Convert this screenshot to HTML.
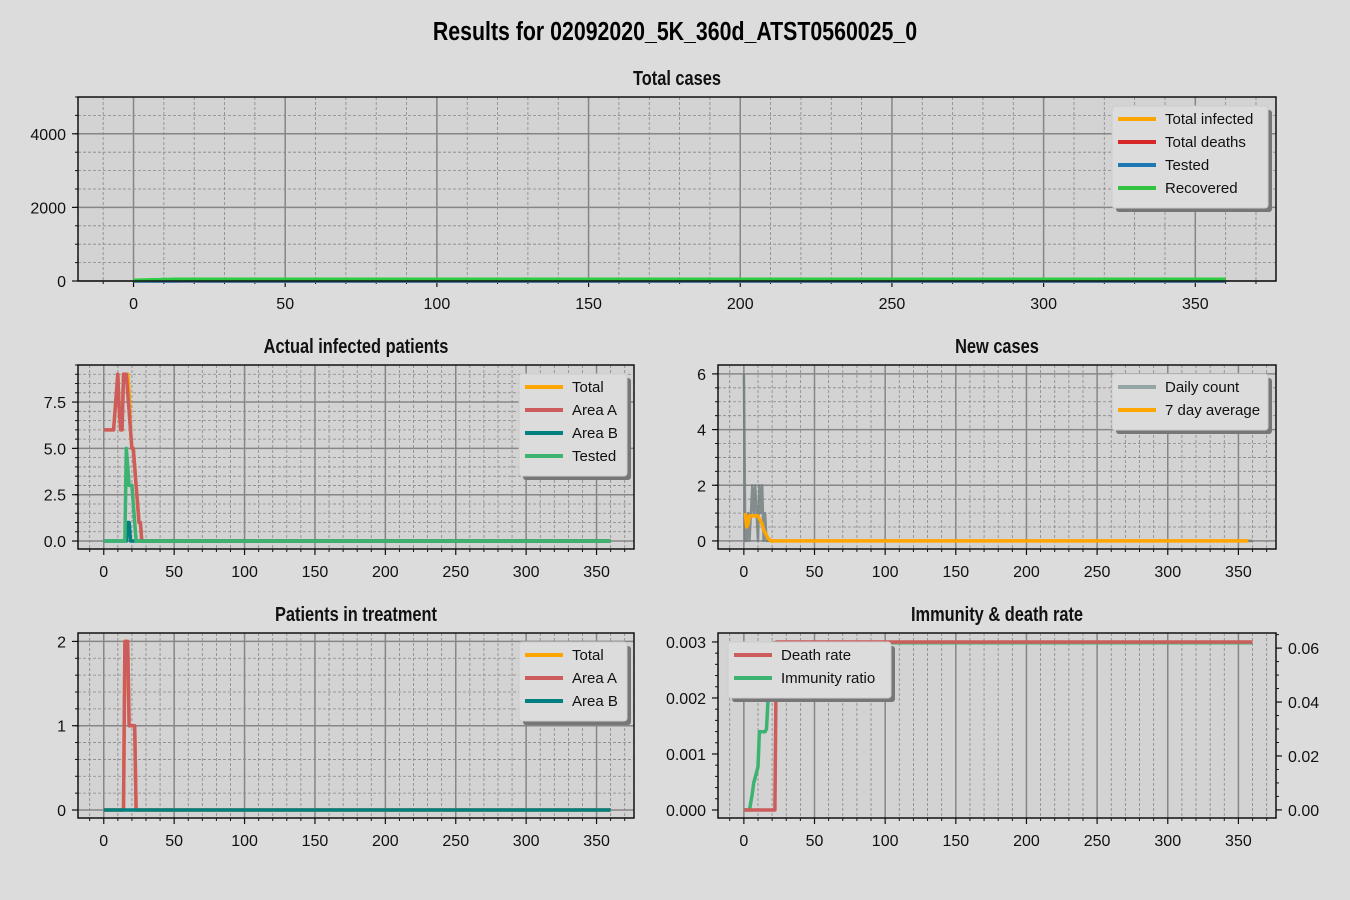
<!DOCTYPE html>
<html><head><meta charset="utf-8">
<style>
body{margin:0;background:#dcdcdc;}
svg{display:block;font-family:"Liberation Sans",sans-serif;}
.t{font-family:"Liberation Sans Narrow","Liberation Sans",sans-serif;font-weight:bold;}
</style></head>
<body>
<svg id="c" width="1350" height="900" xmlns="http://www.w3.org/2000/svg">
<text class="t" x="675" y="40" font-size="26" text-anchor="middle" transform="translate(675,0) scale(0.82,1) translate(-675,0)">Results for 02092020_5K_360d_ATST0560025_0</text>
</svg>
<script>
// ---- data ----
const days=[];for(let i=0;i<=360;i++)days.push(i);
function pad(a,n,v){const r=a.slice();while(r.length<n)r.push(v);return r;}
const topInfected=[6,6,6,6,6,6,6,6,7,8,9,7,6,6,9,9,9,8,7,6,5,5,4,3,2,1,1,0];
const topDeaths=[0];
const topTested=[0,0,0,0,0,0,0,0,0,0,0,0,0,0,0,0,5,4,3,3,3,2,1,0];
const topRecovered=[20,22,24,26,28,30,32,34,36,38,40,42,44,46,48,50];
const actTotal=[6,6,6,6,6,6,6,6,7,8,9,7,6,6,9,9,9,9,8,6,5,5,4,3,2,1,1,0];
const actA=[6,6,6,6,6,6,6,6,7,8,9,7,6,6,9,9,9,8,7,6,5,5,4,3,2,1,1,0];
const actB=[0,0,0,0,0,0,0,0,0,0,0,0,0,0,0,0,0,1,1,0];
const actTested=[0,0,0,0,0,0,0,0,0,0,0,0,0,0,0,0,5,4,3,3,3,2,1,0];
const newDaily=[6,0,0,1,0,1,2,1,2,1,0,2,1,2,0,1,0,0,0];
const newAvg=[null,1.0,0.5,0.6,0.9,0.9,0.9,0.9,0.9,0.9,0.9,0.8,0.7,0.6,0.4,0.3,0.2,0.1,0.05,0];
const trTotal=[0,0,0,0,0,0,0,0,0,0,0,0,0,0,0,2,2,2,1,1,1,1,1,0];
const trA=[0,0,0,0,0,0,0,0,0,0,0,0,0,0,0,2,2,2,1,1,1,1,1,0];
const trB=[0];
const deathRate=[0,0,0,0,0,0,0,0,0,0,0,0,0,0,0,0,0,0,0,0,0,0,0,0.003];
const immunity=[0,0,0,0,0,0.003,0.006,0.01,0.012,0.014,0.016,0.029,0.029,0.029,0.029,0.029,0.03,0.04,0.05,0.055,0.06,0.062];
const xTicks=[0,50,100,150,200,250,300,350];
// ---- drawing ----
const svg=document.getElementById('c');const NS='http://www.w3.org/2000/svg';
function el(tag,at,parent){const e=document.createElementNS(NS,tag);for(const k in at)e.setAttribute(k,at[k]);(parent||svg).appendChild(e);return e;}
function panel(p){
 const g=el('g',{});
 
 
 const X=v=>p.x0+(v-p.xl[0])/(p.xl[1]-p.xl[0])*(p.x1-p.x0);
 const Y=v=>p.y1-(v-p.yl[0])/(p.yl[1]-p.yl[0])*(p.y1-p.y0);
 el('rect',{x:p.x0,y:p.y0,width:p.x1-p.x0,height:p.y1-p.y0,fill:'#d3d3d3'},g);
 for(let v=-10;v<=370;v+=10){if(v%50===0)continue;const x=X(v);if(x<p.x0||x>p.x1)continue;
  el('line',{x1:x,x2:x,y1:p.y0,y2:p.y1,stroke:'#888','stroke-width':0.8,'stroke-dasharray':'3,2'},g);
  el('line',{x1:x,x2:x,y1:p.y1,y2:p.y1+3,stroke:'#111','stroke-width':1},g);}
 if(p.hgrid){for(let v=p.yminor[0];v<=p.yl[1];v+=p.yminor[1]){const y=Y(v);if(y<p.y0||y>p.y1)continue;
  el('line',{x1:p.x0,x2:p.x1,y1:y,y2:y,stroke:'#888','stroke-width':0.8,'stroke-dasharray':'3,2'},g);}}
 for(let v=p.yminor[0];v<=p.yl[1];v+=p.yminor[1]){const y=Y(v);if(y<p.y0||y>p.y1)continue;
  el('line',{x1:p.x0-3,x2:p.x0,y1:y,y2:y,stroke:'#111','stroke-width':1},g);}
 xTicks.forEach(v=>{const x=X(v);el('line',{x1:x,x2:x,y1:p.y0,y2:p.y1,stroke:'#868686','stroke-width':1.5},g);
  el('line',{x1:x,x2:x,y1:p.y1,y2:p.y1+6,stroke:'#111','stroke-width':1.2},g);
  const t=el('text',{x:x,y:p.y1+28,'font-size':16,'text-anchor':'middle',fill:'#111'},g);t.textContent=v;
  
  });
 p.yt.forEach((v,i)=>{const y=Y(v);if(p.hgrid)el('line',{x1:p.x0,x2:p.x1,y1:y,y2:y,stroke:'#868686','stroke-width':1.5},g);
  el('line',{x1:p.x0-6,x2:p.x0,y1:y,y2:y,stroke:'#111','stroke-width':1.2},g);
  const t=el('text',{x:p.x0-12,y:y+6,'font-size':16,'text-anchor':'end',fill:'#111'},g);t.textContent=p.ytl[i];
  
  });
 p.series.forEach(s=>{const Ys=s.right?(v=>p.y1-(v-p.yr[0])/(p.yr[1]-p.yr[0])*(p.y1-p.y0)):Y;
  const n=s.end||361;const arr=pad(s.data,n,s.data[s.data.length-1]);let d='';
  for(let i=0;i<n;i++){if(arr[i]===null)continue;d+=(d?'L':'M')+X(days[i]).toFixed(1)+','+Ys(arr[i]).toFixed(1);}
  const e=el('path',{d:d,fill:'none',stroke:s.c,'stroke-width':s.w||3.5,'stroke-opacity':s.o||1,'stroke-linejoin':'round'},g);
  
  });
 if(p.yr){const rx=p.x1;
  for(let v=0;v<=p.yr[1];v+=0.005){const y=p.y1-(v-p.yr[0])/(p.yr[1]-p.yr[0])*(p.y1-p.y0);el('line',{x1:rx,x2:rx+3,y1:y,y2:y,stroke:'#111'},g);}
  p.yrt.forEach((v,i)=>{const y=p.y1-(v-p.yr[0])/(p.yr[1]-p.yr[0])*(p.y1-p.y0);
  el('line',{x1:rx,x2:rx+6,y1:y,y2:y,stroke:'#111','stroke-width':1.2},g);
  const t=el('text',{x:rx+12,y:y+6,'font-size':16,fill:'#111'},g);t.textContent=p.yrtl[i];
  
  });}
 el('rect',{x:p.x0,y:p.y0,width:p.x1-p.x0,height:p.y1-p.y0,fill:'none',stroke:'#111','stroke-width':1.5},g);
 const tt=el('text',{class:'t',x:(p.x0+p.x1)/2,y:p.y0-12,'font-size':20,'text-anchor':'middle',fill:'#111',transform:`translate(${(p.x0+p.x1)/2},0) scale(0.82,1) translate(${-(p.x0+p.x1)/2},0)`},g);tt.textContent=p.title;
 
 
 const L=p.leg;const lg=el('g',{},g);
 
 
 el('rect',{x:L.x+4,y:L.y+4,width:L.w,height:L.items.length*23+10,fill:'#777',rx:3},lg);
 el('rect',{x:L.x,y:L.y,width:L.w,height:L.items.length*23+10,fill:'#dcdcdc',stroke:'#ccc',rx:3},lg);
 L.items.forEach((it,i)=>{const y=L.y+13+i*23;el('line',{x1:L.x+6,x2:L.x+44,y1:y,y2:y,stroke:it[1],'stroke-width':4,'stroke-opacity':it[2]||1},lg);
  const t=el('text',{x:L.x+53,y:y+5,'font-size':15,fill:'#111'},lg);t.textContent=it[0];
  
  });
}
const XL=[-18.3,376.6];
panel({name:'total-cases-panel',title:'Total cases',x0:78,x1:1276,y0:97,y1:281,xl:XL,yl:[0,5000],yt:[0,2000,4000],ytl:['0','2000','4000'],yminor:[0,500],hgrid:true,
 series:[{n:'total-infected-line',data:topInfected,c:'orange'},{n:'total-deaths-line',data:topDeaths,c:'#d62728'},{n:'tested-line',data:topTested,c:'#1f77b4'},{n:'recovered-line',data:topRecovered,c:'#2ecc40'}],
 leg:{x:1112,y:106,w:156,items:[['Total infected','orange'],['Total deaths','#d62728'],['Tested','#1f77b4'],['Recovered','#33c140']]}});
panel({name:'actual-infected-panel',title:'Actual infected patients',x0:78,x1:634,y0:365,y1:549,xl:XL,yl:[-0.43,9.5],yt:[0,2.5,5,7.5],ytl:['0.0','2.5','5.0','7.5'],yminor:[0,0.5],hgrid:true,
 series:[{n:'total-line',data:actTotal,c:'orange'},{n:'area-a-line',data:actA,c:'#cd5c5c'},{n:'area-b-line',data:actB,c:'#008080'},{n:'tested-line',data:actTested,c:'#3cb371'}],
 leg:{x:519,y:374,w:108,items:[['Total','orange'],['Area A','#cd5c5c'],['Area B','#008080'],['Tested','#3cb371']]}});
panel({name:'new-cases-panel',title:'New cases',x0:718,x1:1276,y0:365,y1:549,xl:XL,yl:[-0.29,6.32],yt:[0,2,4,6],ytl:['0','2','4','6'],yminor:[0,0.5],hgrid:true,
 series:[{n:'daily-count-line',data:newDaily,c:'#6f7c7d',w:2.5,o:0.8},{n:'seven-day-average-line',data:newAvg,c:'orange',end:358}],
 leg:{x:1112,y:374,w:156,items:[['Daily count','#95a5a6'],['7 day average','orange']]}});
panel({name:'patients-in-treatment-panel',title:'Patients in treatment',x0:78,x1:634,y0:633,y1:818,xl:XL,yl:[-0.095,2.1],yt:[0,1,2],ytl:['0','1','2'],yminor:[0,0.2],hgrid:true,
 series:[{n:'total-line',data:trTotal,c:'orange'},{n:'area-a-line',data:trA,c:'#cd5c5c'},{n:'area-b-line',data:trB,c:'#008080'}],
 leg:{x:519,y:642,w:108,items:[['Total','orange'],['Area A','#cd5c5c'],['Area B','#008080']]}});
panel({name:'immunity-death-rate-panel',title:'Immunity & death rate',x0:718,x1:1276,y0:633,y1:818,xl:XL,yl:[-0.000143,0.00316],yt:[0,0.001,0.002,0.003],ytl:['0.000','0.001','0.002','0.003'],yminor:[0,0.0002],hgrid:false,
 yr:[-0.003,0.0656],yrt:[0,0.02,0.04,0.06],yrtl:['0.00','0.02','0.04','0.06'],
 series:[{n:'immunity-ratio-line',data:immunity,c:'#3cb371',right:true},{n:'death-rate-line',data:deathRate,c:'#cd5c5c'}],
 leg:{x:728,y:642,w:163,items:[['Death rate','#cd5c5c'],['Immunity ratio','#3cb371']]}});
</script>
</body></html>
